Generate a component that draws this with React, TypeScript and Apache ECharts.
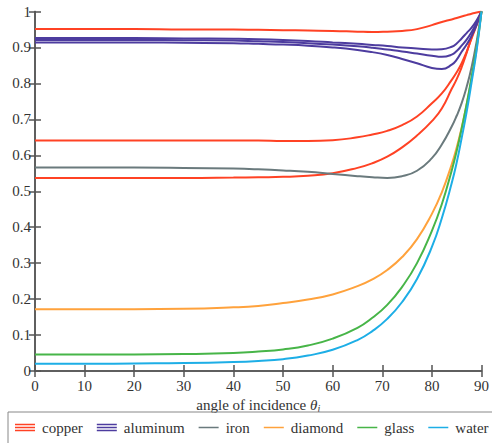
import React, { useEffect, useRef } from "react";
import * as echarts from "echarts";

const angles = [0, 10, 20, 30, 40, 45, 50, 55, 60, 65, 68, 71, 74, 77, 80, 82, 84, 85, 86, 87, 88, 89, 90];

const copperR = [0.951, 0.951, 0.951, 0.950, 0.950, 0.949, 0.948, 0.947, 0.946, 0.944, 0.943, 0.944, 0.946, 0.951, 0.962, 0.971, 0.978, 0.982, 0.986, 0.990, 0.994, 0.997, 1];
const copperG = [0.641, 0.641, 0.641, 0.641, 0.641, 0.641, 0.640, 0.640, 0.642, 0.650, 0.658, 0.668, 0.684, 0.708, 0.745, 0.772, 0.810, 0.831, 0.856, 0.888, 0.925, 0.962, 1];
const copperB = [0.537, 0.537, 0.537, 0.537, 0.538, 0.539, 0.540, 0.543, 0.550, 0.565, 0.578, 0.596, 0.622, 0.655, 0.695, 0.730, 0.785, 0.812, 0.845, 0.885, 0.928, 0.964, 1];
const aluminumR = [0.926, 0.926, 0.926, 0.925, 0.924, 0.923, 0.921, 0.918, 0.914, 0.910, 0.907, 0.904, 0.900, 0.897, 0.894, 0.895, 0.902, 0.911, 0.925, 0.940, 0.955, 0.975, 1];
const aluminumG = [0.921, 0.921, 0.921, 0.920, 0.919, 0.917, 0.915, 0.912, 0.908, 0.903, 0.899, 0.894, 0.889, 0.883, 0.877, 0.874, 0.880, 0.890, 0.905, 0.922, 0.943, 0.968, 1];
const aluminumB = [0.914, 0.914, 0.914, 0.913, 0.912, 0.910, 0.908, 0.905, 0.900, 0.893, 0.887, 0.879, 0.868, 0.856, 0.843, 0.840, 0.852, 0.866, 0.888, 0.908, 0.932, 0.962, 1];
const iron = [0.566, 0.566, 0.566, 0.565, 0.563, 0.561, 0.558, 0.554, 0.548, 0.542, 0.539, 0.537, 0.542, 0.557, 0.592, 0.630, 0.680, 0.710, 0.745, 0.790, 0.845, 0.915, 1];
const diamond = [0.172, 0.172, 0.172, 0.173, 0.177, 0.181, 0.189, 0.199, 0.213, 0.236, 0.255, 0.281, 0.317, 0.367, 0.437, 0.497, 0.575, 0.622, 0.677, 0.740, 0.813, 0.895, 1];
const glass = [0.046, 0.046, 0.046, 0.047, 0.050, 0.054, 0.060, 0.071, 0.090, 0.120, 0.148, 0.184, 0.234, 0.300, 0.390, 0.464, 0.558, 0.612, 0.674, 0.742, 0.818, 0.900, 1];
const water = [0.020, 0.020, 0.021, 0.022, 0.025, 0.028, 0.033, 0.043, 0.059, 0.086, 0.111, 0.145, 0.192, 0.256, 0.345, 0.425, 0.523, 0.580, 0.648, 0.720, 0.803, 0.890, 1];

const legendNames = ["copper", "aluminum", "iron", "diamond", "glass", "water"];
const xTicks = { min: 0, max: 90, interval: 10 };
const yTicks = { min: 0, max: 1, interval: 0.1 };

const COLORS: Record<string, string> = {
  copper: "#ff4224",
  aluminum: "#4d3c9f",
  iron: "#6a7a7d",
  diamond: "#ffa23c",
  glass: "#47b548",
  water: "#1daee6",
};

const FONT = "Liberation Serif";
const TRIPLE = "path://M0,0H20V1.6H0Z M0,3H20V4.6H0Z M0,6H20V7.6H0Z";
const SINGLE = "path://M0,0H0.01V0.01H0Z M0,3H20V4.6H0Z M0,7.59H0.01V7.6H0Z";

function pairs(vals: number[]) {
  return angles.map((a, i) => [a, vals[i]]);
}

export default function App() {
  const ref = useRef<HTMLDivElement>(null);
  useEffect(() => {
    document.body.style.margin = "0";
    if (!ref.current) return;
    const chart = echarts.init(ref.current, undefined, { renderer: "svg" });
    const mk = (name: string, vals: number[]) => ({
      type: "line",
      name,
      data: pairs(vals),
      showSymbol: false,
      smooth: 0.5,
      lineStyle: { color: COLORS[name], width: 2 },
      itemStyle: { color: COLORS[name] },
      xAxisIndex: 0,
      yAxisIndex: 0,
    });
    const axisLine = { show: true, lineStyle: { color: "#555", width: 1.5 } };
    const axisTick = { show: true, inside: true, length: 6, lineStyle: { color: "#555", width: 1.5 } };
    const labelStyle = { fontFamily: FONT, fontSize: 15, color: "#333" };
    chart.setOption({
      animation: false,
      textStyle: { fontFamily: FONT },
      grid: { left: 35, right: 8, top: 11.5, bottom: 72, containLabel: false },
      xAxis: [
        {
          type: "value",
          position: "bottom",
          ...xTicks,
          axisLine,
          axisTick,
          splitLine: { show: false },
          axisLabel: { ...labelStyle, margin: 7 },
          name: "angle of incidence {th|θ}{sub|i}",
          nameLocation: "middle",
          nameGap: 23,
          nameTextStyle: {
            ...labelStyle,
            rich: {
              th: { fontFamily: FONT, fontSize: 15, fontStyle: "italic", color: "#333" },
              sub: { fontFamily: FONT, fontSize: 10, fontStyle: "italic", color: "#333", padding: [7, 0, 0, 0] },
            },
          },
        },
        {
          type: "value",
          position: "top",
          ...xTicks,
          axisLine,
          axisTick,
          splitLine: { show: false },
          axisLabel: { show: false },
        },
      ],
      yAxis: [
        {
          type: "value",
          position: "left",
          ...yTicks,
          axisLine,
          axisTick,
          splitLine: { show: false },
          axisLabel: { ...labelStyle, margin: 4 },
        },
        {
          type: "value",
          position: "right",
          ...yTicks,
          axisLine,
          axisTick,
          splitLine: { show: false },
          axisLabel: { show: false },
        },
      ],
      legend: {
        left: 8,
        top: 412,
        width: 482,
        padding: [8, 7, 30, 7],
        itemGap: 14,
        itemWidth: 20,
        itemHeight: 7.6,
        borderColor: "#888",
        borderWidth: 1,
        selectedMode: false,
        textStyle: { ...labelStyle, padding: [0, 0, 0, 2] },
        data: legendNames.map((n) => ({
          name: n,
          icon: n === "copper" || n === "aluminum" ? TRIPLE : SINGLE,
          itemStyle: { color: COLORS[n] },
        })),
      },
      series: [
        mk("copper", copperR),
        mk("copper", copperG),
        mk("copper", copperB),
        mk("aluminum", aluminumR),
        mk("aluminum", aluminumG),
        mk("aluminum", aluminumB),
        mk("iron", iron),
        mk("diamond", diamond),
        mk("glass", glass),
        mk("water", water),
      ],
    });
    return () => chart.dispose();
  }, []);
  return <div ref={ref} style={{ width: 492, height: 443 }} />;
}
